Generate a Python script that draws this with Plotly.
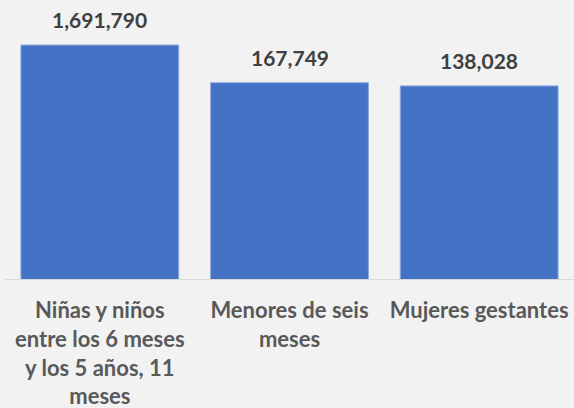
import math
import plotly.graph_objects as go

categories = ['Niñas y niños<br>entre los 6 meses<br>y los 5 años, 11<br>meses',
              'Menores de seis<br>meses',
              'Mujeres gestantes']
values = [1691790, 167749, 138028]
value_labels = ['1,691,790', '167,749', '138,028']

fig = go.Figure()
fig.add_trace(go.Bar(
    x=categories, y=values,
    marker=dict(color='#4472C4', line=dict(color='#8FAADC', width=1)),
    hoverinfo='skip',
))

for cat, val, lab in zip(categories, values, value_labels):
    fig.add_annotation(
        x=cat, y=math.log10(val), text=lab, showarrow=False,
        yanchor='bottom', yshift=11,
        font=dict(family='Lato', size=21, color='#404040', weight='bold'),
    )

fig.update_layout(
    width=574, height=408,
    paper_bgcolor='#F2F2F2', plot_bgcolor='#F2F2F2',
    margin=dict(l=5, r=0, t=0, b=129),
    bargap=0.168,
    showlegend=False,
    xaxis=dict(showline=True, linecolor='#D9D9D9', linewidth=1,
               ticks='outside', ticklen=12, tickcolor='rgba(0,0,0,0)',
               tickfont=dict(family='Lato', size=22, color='#595959', weight='bold')),
    yaxis=dict(type='log', range=[0, 7.426], visible=False, showgrid=False),
)

fig.write_html("out.html", config={'displayModeBar': False},
               post_script="document.body.style.margin='0';")
